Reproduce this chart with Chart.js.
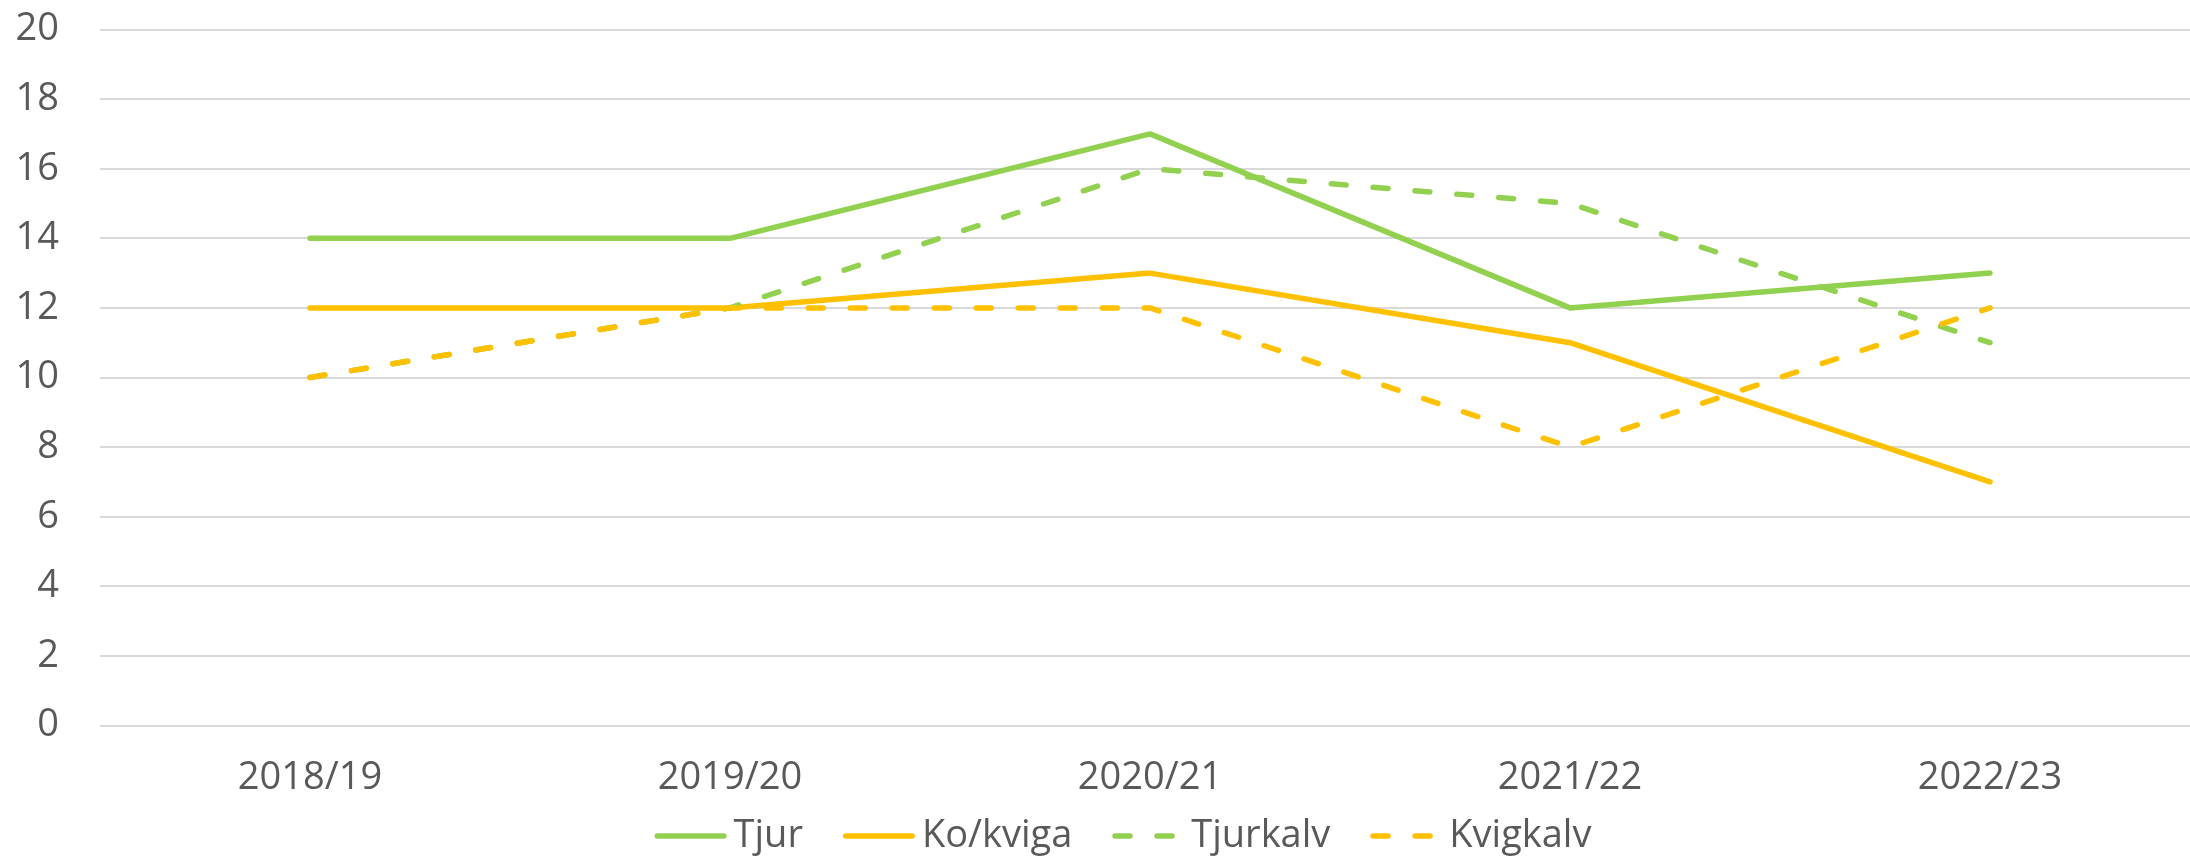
<!DOCTYPE html>
<html>
<head>
<meta charset="utf-8">
<script src="https://cdn.jsdelivr.net/npm/chart.js@4/dist/chart.umd.min.js"></script>
<style>
  html, body { margin: 0; padding: 0; background: #ffffff; overflow: hidden; width: 2190px; height: 858px; }
  #wrap { width: 2200px; height: 858px; }
</style>
</head>
<body>
<div id="wrap"><canvas id="c" width="2200" height="858"></canvas></div>
<script>
const categories = ["2018/19", "2019/20", "2020/21", "2021/22", "2022/23"];
const seriesNames = ["Tjur", "Ko/kviga", "Tjurkalv", "Kvigkalv"];
const tjur = [14, 14, 17, 12, 13];
const koKviga = [12, 12, 13, 11, 7];
const tjurkalv = [10, 12, 16, 15, 11];
const kvigkalv = [10, 12, 12, 8, 12];
const yTicks = [0, 2, 4, 6, 8, 10, 12, 14, 16, 18, 20];

const GREEN = "#92D050";
const ORANGE = "#FFC000";
const TEXT = "#595959";
const FONT = "'Open Sans', 'Liberation Sans', sans-serif";
const DASH = [15, 27];
const LW = 5.5;

function ds(label, data, color, dashed, order) {
  return {
    label, data,
    borderColor: color, backgroundColor: color,
    borderWidth: LW,
    borderDash: dashed ? DASH : [],
    borderCapStyle: 'round',
    borderJoinStyle: 'round',
    pointRadius: 0, pointHoverRadius: 0,
    tension: 0, fill: false,
    order
  };
}

const legendPlugin = {
  id: 'customLegend',
  afterDraw(chart) {
    const ctx = chart.ctx;
    ctx.save();
    ctx.font = "38px " + FONT;
    ctx.textBaseline = 'middle';
    ctx.textAlign = 'left';
    const lineLen = 72, gapText = 7, gapItem = 40, yc = 836;
    const items = chart.data.datasets.map(d => ({ d, w: ctx.measureText(d.label).width }));
    let total = 0;
    items.forEach((it, i) => { total += lineLen + gapText + it.w + (i < items.length - 1 ? gapItem : 0); });
    let x = 1123 - total / 2;
    items.forEach(it => {
      ctx.beginPath();
      ctx.strokeStyle = it.d.borderColor;
      ctx.lineWidth = LW;
      ctx.lineCap = 'round';
      ctx.setLineDash(it.d.borderDash);
      ctx.moveTo(x + LW / 2, yc);
      ctx.lineTo(x + lineLen - LW / 2, yc);
      ctx.stroke();
      ctx.setLineDash([]);
      ctx.fillStyle = TEXT;
      ctx.fillText(it.d.label, x + lineLen + gapText, yc);
      x += lineLen + gapText + it.w + gapItem;
    });
    ctx.restore();
  }
};

new Chart(document.getElementById('c'), {
  type: 'line',
  data: {
    labels: categories,
    datasets: [
      ds(seriesNames[0], tjur, GREEN, false, 4),
      ds(seriesNames[1], koKviga, ORANGE, false, 3),
      ds(seriesNames[2], tjurkalv, GREEN, true, 2),
      ds(seriesNames[3], kvigkalv, ORANGE, true, 1)
    ]
  },
  options: {
    responsive: false,
    animation: false,
    devicePixelRatio: 1,
    layout: { padding: { top: 29.5, right: 0, bottom: 52.5, left: 0 } },
    plugins: { legend: { display: false }, tooltip: { enabled: false } },
    scales: {
      x: {
        type: 'category',
        offset: true,
        grid: { display: false, drawTicks: false },
        border: { display: false },
        ticks: { color: TEXT, font: { family: FONT, size: 38 }, padding: 30, maxRotation: 0, autoSkip: false },
        afterFit(scale) { scale.height = 80; scale.paddingLeft = 0; scale.paddingRight = 0; }
      },
      y: {
        min: 0, max: 20,
        afterBuildTicks(scale) { scale.ticks = yTicks.map(v => ({ value: v })); },
        grid: { color: "#d9d9d9", lineWidth: 2, drawTicks: false },
        border: { display: false },
        ticks: { color: TEXT, font: { family: FONT, size: 38 }, padding: 41 },
        afterFit(scale) { scale.width = 100; scale.paddingTop = 0; scale.paddingBottom = 0; }
      }
    }
  },
  plugins: [legendPlugin]
});
</script>
</body>
</html>
